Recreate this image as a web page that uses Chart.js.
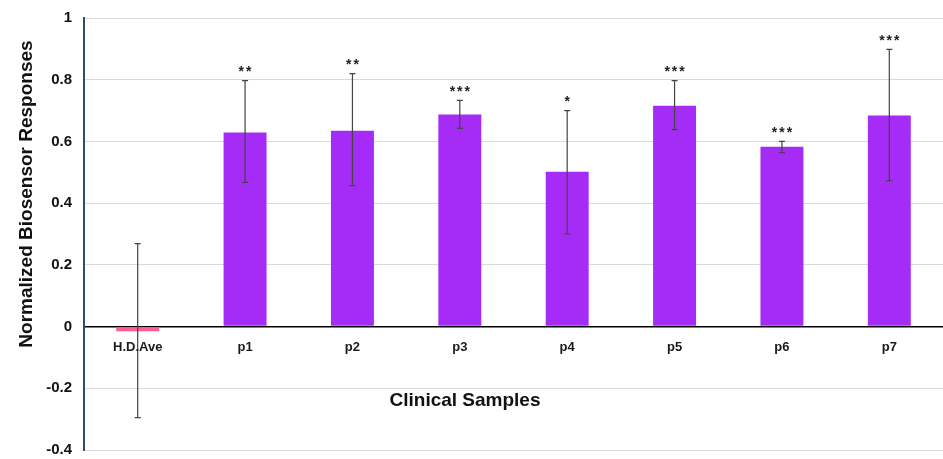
<!DOCTYPE html>
<html>
<head>
<meta charset="utf-8">
<script src="https://cdn.jsdelivr.net/npm/chart.js@4"></script>
<style>
  html, body { margin: 0; padding: 0; background: #fff; }
  #wrap { width: 943px; height: 459px; }
</style>
</head>
<body>
<div id="wrap"><canvas id="chart"></canvas></div>
<script>
// data
const categories = ["H.D.Ave", "p1", "p2", "p3", "p4", "p5", "p6", "p7"];
const responses = [-0.015, 0.629, 0.635, 0.687, 0.502, 0.716, 0.583, 0.684];
const errTop = [0.269, 0.797, 0.82, 0.733, 0.70, 0.797, 0.60, 0.898];
const errBottom = [-0.295, 0.467, 0.457, 0.642, 0.30, 0.638, 0.564, 0.473];
const stars = ["", "**", "**", "***", "*", "***", "***", "***"];
const yTicks = [-0.4, -0.2, 0, 0.2, 0.4, 0.6, 0.8, 1];

const FONT = "'Liberation Sans', Arial, sans-serif";

// error bars, stars, category labels and axis titles
const extras = {
  id: 'extras',
  afterDatasetsDraw(chart) {
    const ctx = chart.ctx;
    const x = chart.scales.x, y = chart.scales.y;
    ctx.save();
    ctx.strokeStyle = '#444';
    ctx.lineWidth = 1.2;
    categories.forEach((c, i) => {
      const px = x.getPixelForValue(i);
      const yt = y.getPixelForValue(errTop[i]);
      const yb = y.getPixelForValue(errBottom[i]);
      ctx.beginPath();
      ctx.moveTo(px, yt); ctx.lineTo(px, yb);
      ctx.moveTo(px - 3, yt); ctx.lineTo(px + 3, yt);
      ctx.moveTo(px - 3, yb); ctx.lineTo(px + 3, yb);
      ctx.stroke();
      // significance stars
      ctx.fillStyle = '#222';
      ctx.font = 'bold 14px ' + FONT;
      ctx.letterSpacing = '2px';
      ctx.textAlign = 'center';
      ctx.textBaseline = 'bottom';
      ctx.fillText(stars[i], px + 1, yt - 1);
      ctx.letterSpacing = '0px';
      // category label just below the zero line
      ctx.fillStyle = '#1a1a1a';
      ctx.font = 'bold 13px ' + FONT;
      ctx.textBaseline = 'middle';
      ctx.fillText(c, px, y.getPixelForValue(0) + 21);
    });
    // x title inside the plot
    ctx.font = 'bold 19px ' + FONT;
    ctx.fillStyle = '#111';
    ctx.textAlign = 'center';
    ctx.textBaseline = 'middle';
    ctx.fillText('Clinical Samples', 465, y.getPixelForValue(-0.24));
    // y title
    ctx.translate(27, 194);
    ctx.rotate(-Math.PI / 2);
    ctx.font = 'bold 19px ' + FONT;
    ctx.fillText('Normalized Biosensor Responses', 0, 0);
    ctx.restore();
  }
};

new Chart(document.getElementById('chart'), {
  type: 'bar',
  data: {
    labels: categories,
    datasets: [{
      data: responses,
      backgroundColor: responses.map((v, i) => i === 0 ? '#ff5e8e' : '#a42cf6'),
      barPercentage: 0.8,
      categoryPercentage: 0.5
    }]
  },
  options: {
    responsive: true,
    maintainAspectRatio: false,
    animation: false,
    layout: { padding: { top: 18, bottom: 9, right: 0, left: 0 } },
    plugins: { legend: { display: false }, tooltip: { enabled: false } },
    scales: {
      x: { display: false },
      y: {
        min: -0.4,
        max: 1,
        afterBuildTicks: s => { s.ticks = yTicks.map(v => ({ value: v })); },
        afterFit: s => { s.width = 84; s.paddingTop = 0; s.paddingBottom = 0; },
        border: { color: '#2f4b6e', width: 2 },
        grid: {
          drawTicks: false,
          color: ctx => ctx.tick && ctx.tick.value === 0 ? '#000' : '#d9d9d9',
          lineWidth: ctx => ctx.tick && ctx.tick.value === 0 ? 1.5 : 1
        },
        ticks: {
          padding: 12,
          color: '#111',
          font: { family: FONT, size: 15, weight: 'bold' },
          callback: v => String(Math.round(v * 10) / 10)
        }
      }
    }
  },
  plugins: [extras]
});
</script>
</body>
</html>
